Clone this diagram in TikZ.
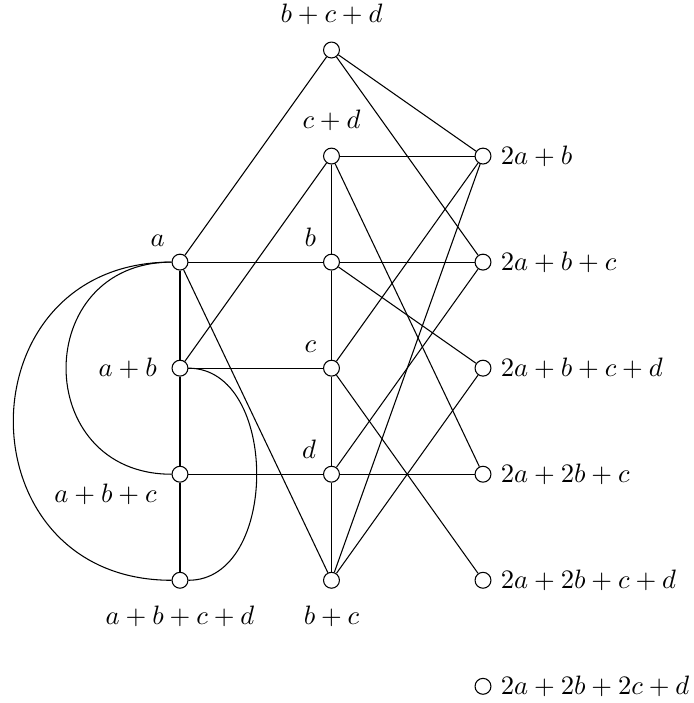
\documentclass[tikz,border=0pt]{standalone}
\usetikzlibrary{positioning}
\tikzset{
  vertex/.style={
    circle,
    draw,
    fill=white,
    inner sep=0pt,
    minimum size=2.1mm
  },
  link/.style={
    draw,
    thin
  }
}
\begin{document}
\begin{tikzpicture}[x=2cm,y=1.4cm]
\useasboundingbox (-2.376cm,-1.62cm) rectangle (6.785cm,7.66cm);
% left column
\node[vertex, label={above left:$a$}] (a) at (0,3) {};
\node[vertex, label={[label distance=2pt]left:$a+b$}] (ab) at (0,2) {};
\node[vertex, label={[xshift=-3pt,yshift=2pt]below left:$a+b+c$}] (abc) at (0,1) {};
\node[vertex, label={[label distance=1mm]below:$a+b+c+d$}] (abcd) at (0,0) {};
% middle column
\node[vertex, label={[label distance=1mm]above:$b+c+d$}] (bcd) at (1,5) {};
\node[vertex, label={[label distance=1mm]above:$c+d$}] (cd) at (1,4) {};
\node[vertex, label={above left:$b$}] (b) at (1,3) {};
\node[vertex, label={above left:$c$}] (c) at (1,2) {};
\node[vertex, label={above left:$d$}] (d) at (1,1) {};
\node[vertex, label={[label distance=1mm]below:$b+c$}] (bc) at (1,0) {};
% right column
\node[vertex, label={right:$2a+b$}] (aab) at (2,4) {};
\node[vertex, label={right:$2a+b+c$}] (aabc) at (2,3) {};
\node[vertex, label={right:$2a+b+c+d$}] (aabcd) at (2,2) {};
\node[vertex, label={right:$2a+2b+c$}] (aabbc) at (2,1) {};
\node[vertex, label={right:$2a+2b+c+d$}] (aabbcd) at (2,0) {};
\node[vertex, label={right:$2a+2b+2c+d$}] (aabbccd) at (2,-1) {};

% straight edges
\draw[link] (bcd) -- (a);
\draw[link] (bcd) -- (aab);
\draw[link] (bcd) -- (aabc);
\draw[link] (cd) -- (aab);
\draw[link] (cd) -- (b);
\draw[link] (cd) -- (ab);
\draw[link] (cd) -- (aabbc);
\draw[link] (aab) -- (c);
\draw[link] (aab) -- (bc);
\draw[link] (a) -- (b);
\draw[link] (b) -- (aabc);
\draw[link] (b) -- (c);
\draw[link] (b) -- (aabcd);
\draw[link] (a) -- (ab);
\draw[link] (a) -- (bc);
\draw[link] (ab) -- (c);
\draw[link] (ab) -- (abc);
\draw[link] (c) -- (d);
\draw[link] (c) -- (aabbcd);
\draw[link] (abc) -- (d);
\draw[link] (abc) -- (abcd);
\draw[link] (d) -- (aabbc);
\draw[link] (d) -- (aabc);
\draw[link] (d) -- (bc);
\draw[link] (bc) -- (aabcd);

% curved edges
\draw[link] (a) to[out=180,in=180,looseness=1.7] (abc);
\draw[link] (a) to[out=180,in=180,looseness=1.7] (abcd);
\draw[link] (ab) to[out=0,in=0,looseness=1.1] (abcd);
\end{tikzpicture}
\end{document}
